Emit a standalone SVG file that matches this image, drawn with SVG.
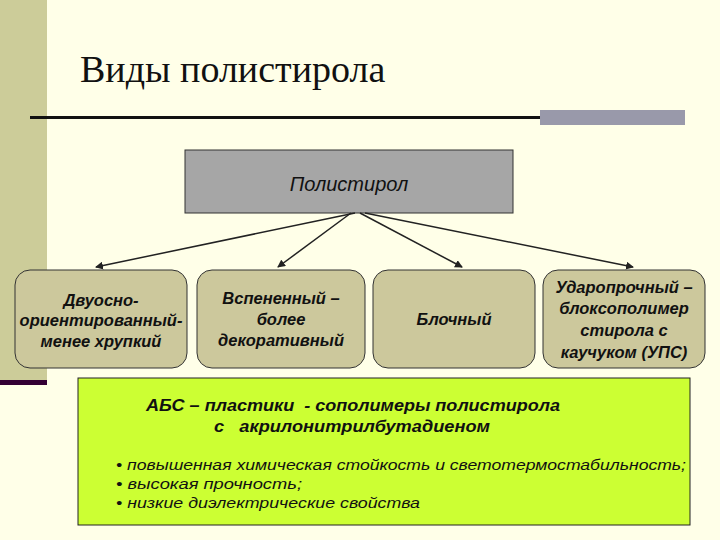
<svg xmlns="http://www.w3.org/2000/svg" width="720" height="540" viewBox="0 0 720 540">
<defs>
<style>
.n{fill:#CCC89C;stroke:#333;stroke-width:1}
.t{font-family:"Liberation Sans",Arial,sans-serif;font-style:italic;font-weight:bold;font-size:16.5px;fill:#111;text-anchor:middle}
.a{font-family:"Liberation Sans",Arial,sans-serif;font-style:italic;font-weight:bold;font-size:17px;fill:#111}
.s{font-family:"Liberation Sans",Arial,sans-serif;font-style:italic;font-size:15px;fill:#111}
.c{stroke:#222;stroke-width:1.5;fill:none;marker-end:url(#a)}
</style>
<marker id="a" markerWidth="8" markerHeight="8" refX="7" refY="4" orient="auto" markerUnits="userSpaceOnUse"><path d="M0,0L8,4L0,8z" fill="#222"/></marker>
</defs>
<rect width="720" height="540" fill="#FFFFE8"/>
<rect x="0" y="0" width="47" height="380" fill="#CCCC99"/>
<rect x="0" y="380" width="47" height="5" fill="#330033"/>
<text x="80" y="82" font-family="Liberation Serif,serif" font-size="38" fill="#111">Виды полистирола</text>
<rect x="30" y="116" width="655" height="3" fill="#111"/>
<rect x="540" y="110" width="145" height="15" fill="#9999AA"/>
<g id="top"><rect x="185" y="150" width="328" height="63" fill="#A6A6A6" stroke="#333"/>
<text x="349" y="191" font-family="Liberation Sans,Arial,sans-serif" font-style="italic" font-size="20" text-anchor="middle" fill="#111">Полистирол</text></g>
<g id="connectors">
<line class="c" x1="355" y1="213" x2="96" y2="267"/>
<line class="c" x1="351" y1="213" x2="278" y2="267"/>
<line class="c" x1="360" y1="213" x2="462" y2="267"/>
<line class="c" x1="365" y1="213" x2="633" y2="267"/>
</g>
<g id="n1"><rect class="n" x="15" y="270" width="172" height="98" rx="15"/>
<text class="t" x="101" y="306">Двуосно-</text><text class="t" x="101" y="326">ориентированный-</text><text class="t" x="101" y="347">менее хрупкий</text></g>
<g id="n2"><rect class="n" x="197" y="270" width="168" height="98" rx="15"/>
<text class="t" x="281" y="304">Вспененный –</text><text class="t" x="281" y="325">более</text><text class="t" x="281" y="346">декоративный</text></g>
<g id="n3"><rect class="n" x="373" y="270" width="162" height="98" rx="15"/>
<text class="t" x="454" y="325">Блочный</text></g>
<g id="n4"><rect class="n" x="543" y="270" width="162" height="98" rx="15"/>
<text class="t" x="624" y="293">Ударопрочный –</text><text class="t" x="624" y="314">блоксополимер</text><text class="t" x="624" y="336">стирола с</text><text class="t" x="624" y="358">каучуком (УПС)</text></g>
<g id="abs"><rect x="78" y="378" width="612" height="147" fill="#CCFF33" stroke="#222"/>
<text class="a" x="146" y="411" textLength="414" lengthAdjust="spacingAndGlyphs" xml:space="preserve">АБС – пластики  - сополимеры полистирола</text>
<text class="a" x="214" y="432" textLength="276" lengthAdjust="spacingAndGlyphs" xml:space="preserve">с   акрилонитрилбутадиеном</text>
<text class="s" x="116" y="470" textLength="570" lengthAdjust="spacingAndGlyphs">• повышенная химическая стойкость и светотермостабильность;</text>
<text class="s" x="116" y="489" textLength="186" lengthAdjust="spacingAndGlyphs">• высокая прочность;</text>
<text class="s" x="116" y="508" textLength="304" lengthAdjust="spacingAndGlyphs">• низкие диэлектрические свойства</text></g>
</svg>
